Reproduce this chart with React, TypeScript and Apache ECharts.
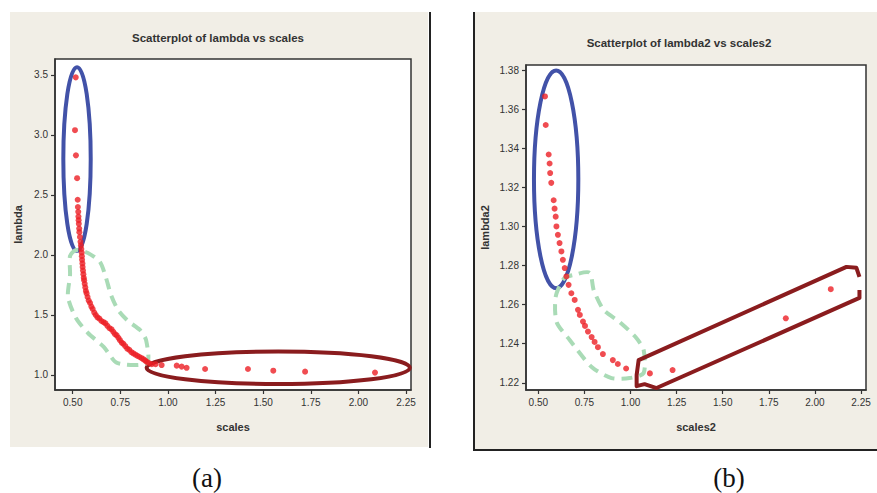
import React, { useEffect, useRef } from "react";
import * as echarts from "echarts";

// ---- Data ----
const scalesA: number[] = [
  0.516, 0.512, 0.517, 0.523, 0.526,
  0.527, 0.529, 0.530, 0.531, 0.532, 0.534, 0.535, 0.538, 0.541, 0.543,
  0.545, 0.547, 0.548, 0.549, 0.551, 0.552, 0.554, 0.556, 0.558, 0.560,
  0.563, 0.566, 0.569, 0.573, 0.578, 0.584, 0.591, 0.598, 0.605, 0.613,
  0.621, 0.630, 0.640, 0.651, 0.662, 0.672, 0.682, 0.693, 0.704, 0.713,
  0.722, 0.731, 0.740, 0.748, 0.757, 0.766, 0.776, 0.786, 0.797, 0.808,
  0.818, 0.829, 0.840, 0.851, 0.862, 0.872, 0.881, 0.889, 0.900, 0.915,
  0.935,
  0.967, 1.046, 1.072, 1.098, 1.195, 1.420, 1.553, 1.720, 2.087,
];
const lambdaA: number[] = [
  3.48, 3.04, 2.83, 2.64, 2.46,
  2.40, 2.36, 2.32, 2.29, 2.26, 2.22, 2.19, 2.15, 2.11, 2.08,
  2.05, 2.02, 1.99, 1.96, 1.93, 1.90, 1.87, 1.84, 1.81, 1.79,
  1.76, 1.73, 1.70, 1.68, 1.65, 1.62, 1.60, 1.57, 1.55, 1.52,
  1.50, 1.48, 1.47, 1.45, 1.44, 1.43, 1.41, 1.39, 1.38, 1.36,
  1.34, 1.33, 1.31, 1.29, 1.27, 1.26, 1.24, 1.22, 1.21, 1.19,
  1.18, 1.17, 1.16, 1.15, 1.14, 1.13, 1.12, 1.11, 1.10, 1.09,
  1.09,
  1.083, 1.078, 1.070, 1.060, 1.050, 1.050, 1.036, 1.028, 1.020,
];

const scalesB: number[] = [
  0.536, 0.540, 0.556, 0.561, 0.564, 0.570, 0.583, 0.588, 0.594, 0.598,
  0.606, 0.615, 0.625, 0.633, 0.643, 0.652, 0.664, 0.679, 0.697, 0.715,
  0.725, 0.742, 0.753, 0.769, 0.789, 0.805, 0.823, 0.850, 0.904, 0.931,
  0.976, 1.105, 1.228, 1.842, 2.086,
];
const lambdaB: number[] = [
  1.3665, 1.3519, 1.3368, 1.3322, 1.3273, 1.3223, 1.3134, 1.3091, 1.3050, 1.3000,
  1.2957, 1.2915, 1.2872, 1.2829, 1.2787, 1.2744, 1.2701, 1.2658, 1.2624, 1.2573,
  1.2547, 1.2513, 1.2491, 1.2462, 1.2434, 1.2409, 1.2382, 1.2347, 1.2316, 1.2296,
  1.2273, 1.2248, 1.2265, 1.2530, 1.2679,
];

const xTicks: number[] = [0.5, 0.75, 1.0, 1.25, 1.5, 1.75, 2.0, 2.25];
const yTicksA: number[] = [1.0, 1.5, 2.0, 2.5, 3.0, 3.5];
const yTicksB: number[] = [1.22, 1.24, 1.26, 1.28, 1.3, 1.32, 1.34, 1.36, 1.38];

// ---- Annotations, in data units ----
const blueEllipseA = { cx: 0.5226, cy: 2.80, ax: 0.0719, ay: 0.765 };
const redEllipseA = { cx: 1.579, cy: 1.06, ax: 0.691, ay: 0.135 };
const greenBandA: [number, number][] = [
  [0.486, 1.992], [0.517, 2.042], [0.580, 2.017], [0.643, 1.942], [0.675, 1.808],
  [0.701, 1.667], [0.738, 1.542], [0.790, 1.450], [0.853, 1.375], [0.885, 1.292],
  [0.890, 1.100], [0.733, 1.100], [0.664, 1.233], [0.580, 1.350], [0.517, 1.475],
  [0.475, 1.650], [0.486, 1.833],
];
const blueEllipseB = { cx: 0.5965, cy: 1.3241, ax: 0.1203, ay: 0.05574 };
const greenBandB: [number, number][] = [
  [0.594, 1.2640], [0.640, 1.2735], [0.691, 1.2752], [0.778, 1.2763], [0.800, 1.2675],
  [0.854, 1.2573], [0.941, 1.2511], [1.027, 1.2434], [1.071, 1.2368], [1.071, 1.2250],
  [0.995, 1.2224], [0.897, 1.2224], [0.789, 1.2281], [0.670, 1.2419], [0.599, 1.2511],
];
const redBoxB: [number, number][] = [
  [2.2415, 1.2675], [2.2415, 1.2634], [1.141, 1.2173], [1.076, 1.2193], [1.033, 1.2183],
  [1.033, 1.2240], [1.044, 1.2316], [2.171, 1.2793], [2.225, 1.2788], [2.2415, 1.2742],
];

const RED = "#ec1f26";
const BLUE = "#4252a8";
const GREEN = "#a9dbb6";
const DARKRED = "#8a1c1e";
const BEIGE = "#f1eee6";
const SANS = "'Liberation Sans', Arial, sans-serif";
const SERIF = "'Liberation Serif', 'DejaVu Serif', serif";

function axisCommon(ticks: number[], digits: number) {
  return {
    type: "value" as const,
    axisLine: { show: true, onZero: false, lineStyle: { color: "#333", width: 1.5 } },
    axisTick: { show: true, length: 4, customValues: ticks, lineStyle: { color: "#333", width: 1.2 } },
    axisLabel: {
      customValues: ticks,
      formatter: (v: number) => v.toFixed(digits),
      color: "#333",
      fontFamily: SANS,
      fontSize: 10,
      margin: 7,
    },
    splitLine: { show: false },
    nameLocation: "middle" as const,
    nameTextStyle: { color: "#333", fontFamily: SANS, fontSize: 11, fontWeight: "bold" as const },
  };
}

export default function App() {
  const ref = useRef<HTMLDivElement>(null);
  useEffect(() => {
    if (!ref.current) return;
    const chart = echarts.init(ref.current, undefined, { renderer: "svg" });
    const dataA = scalesA.map((x, i) => [x, lambdaA[i]]);
    const dataB = scalesB.map((x, i) => [x, lambdaB[i]]);
    const base: any = {
      animation: false,
      grid: [
        { left: 55, top: 59, width: 356, height: 331, show: true, backgroundColor: "#fff", borderColor: "#333", borderWidth: 1.5 },
        { left: 526, top: 65, width: 340, height: 325, show: true, backgroundColor: "#fff", borderColor: "#333", borderWidth: 1.5 },
      ],
      xAxis: [
        { ...axisCommon(xTicks, 2), gridIndex: 0, min: 0.407, max: 2.276, name: "scales", nameGap: 31 },
        { ...axisCommon(xTicks, 2), gridIndex: 1, min: 0.433, max: 2.277, name: "scales2", nameGap: 31 },
      ],
      yAxis: [
        { ...axisCommon(yTicksA, 1), gridIndex: 0, min: 0.875, max: 3.633, name: "lambda", nameGap: 32 },
        { ...axisCommon(yTicksB, 2), gridIndex: 1, min: 1.2163, max: 1.3826, name: "lambda2", nameGap: 36 },
      ],
      series: [
        { type: "scatter", xAxisIndex: 0, yAxisIndex: 0, data: dataA, symbolSize: 6, itemStyle: { color: RED }, z: 3 },
        { type: "scatter", xAxisIndex: 1, yAxisIndex: 1, data: dataB, symbolSize: 6, itemStyle: { color: RED }, z: 3 },
      ],
    };
    chart.setOption(base);

    const px = (g: number, p: [number, number]) => chart.convertToPixel({ gridIndex: g }, p) as number[];
    const ellipse = (g: number, e: { cx: number; cy: number; ax: number; ay: number }, color: string) => {
      const c = px(g, [e.cx, e.cy]);
      const r = px(g, [e.cx + e.ax, e.cy + e.ay]);
      return {
        type: "ellipse",
        z: 2,
        shape: { cx: c[0], cy: c[1], rx: Math.abs(r[0] - c[0]), ry: Math.abs(c[1] - r[1]) },
        style: { fill: "none", stroke: color, lineWidth: 4 },
        silent: true,
      };
    };
    const band = (g: number, pts: [number, number][]) => ({
      type: "polygon",
      z: 2,
      shape: { points: pts.map((p) => px(g, p)), smooth: 0.25 },
      style: { fill: "none", stroke: GREEN, lineWidth: 4, lineDash: [11, 7] },
      silent: true,
    });
    const titleStyle = { textAlign: "center", textVerticalAlign: "middle", fontFamily: SANS, fontSize: 11.5, fontWeight: "bold", fill: "#333" };

    chart.setOption({
      graphic: [
        { type: "rect", z: -10, shape: { x: 10, y: 12, width: 418, height: 435 }, style: { fill: BEIGE } },
        { type: "line", z: -9, shape: { x1: 430, y1: 12, x2: 430, y2: 448 }, style: { stroke: "#222", lineWidth: 2 } },
        { type: "rect", z: -10, shape: { x: 474, y: 12, width: 403, height: 438 }, style: { fill: BEIGE } },
        { type: "polyline", z: -9, shape: { points: [[474, 12], [474, 450], [877, 450]] }, style: { fill: "none", stroke: "#222", lineWidth: 2 } },
        { type: "text", z: 5, style: { x: 218, y: 38, text: "Scatterplot of lambda vs scales", ...titleStyle } },
        { type: "text", z: 5, style: { x: 679, y: 43, text: "Scatterplot of lambda2 vs scales2", ...titleStyle } },
        { type: "text", z: 5, style: { x: 207, y: 478, text: "(a)", textAlign: "center", textVerticalAlign: "middle", fontFamily: SERIF, fontSize: 27, fill: "#111" } },
        { type: "text", z: 5, style: { x: 729, y: 478, text: "(b)", textAlign: "center", textVerticalAlign: "middle", fontFamily: SERIF, fontSize: 27, fill: "#111" } },
        ellipse(0, blueEllipseA, BLUE),
        ellipse(0, redEllipseA, DARKRED),
        band(0, greenBandA),
        ellipse(1, blueEllipseB, BLUE),
        band(1, greenBandB),
        {
          type: "polyline",
          z: 2,
          shape: { points: redBoxB.map((p) => px(1, p)) },
          style: { fill: "none", stroke: DARKRED, lineWidth: 4, lineJoin: "round" },
          silent: true,
        },
      ],
    });
    return () => chart.dispose();
  }, []);
  return (
    <div
      ref={ref}
      style={{ position: "absolute", left: 0, top: 0, width: 877, height: 493, background: "#fff" }}
    />
  );
}
